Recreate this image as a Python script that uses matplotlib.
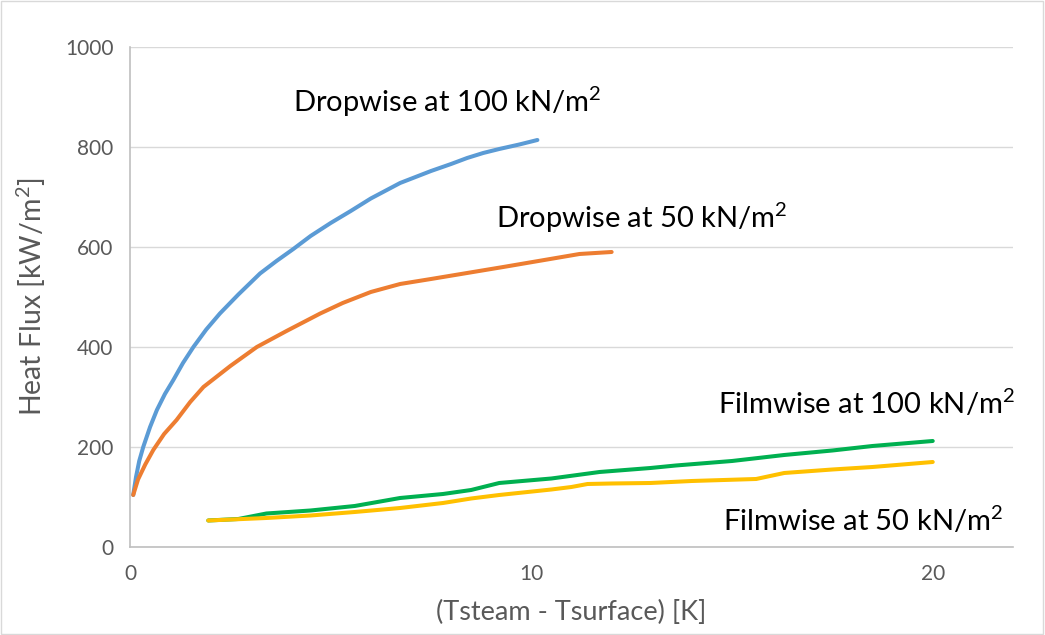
import numpy as np
import matplotlib.pyplot as plt
from matplotlib.patches import Rectangle

plt.rcParams["font.family"] = ["Lato", "DejaVu Sans"]
plt.rcParams["mathtext.default"] = "regular"

# Dropwise at 100 kN/m2
drop100_x = [0.08, 0.15, 0.23, 0.33, 0.5, 0.67, 0.87, 1.08, 1.32, 1.58, 1.9, 2.24, 2.7, 3.24,
             3.65, 4.07, 4.5, 5.0, 5.5, 6.0, 6.73, 7.5, 8.0, 8.4, 8.8, 9.2, 9.7, 10.15]
drop100_y = [104, 140, 172, 200, 240, 274, 306, 334, 368, 400, 435, 467, 505, 547,
             572, 596, 622, 648, 672, 697, 728, 752, 766, 778, 788, 796, 805, 814]

# Dropwise at 50 kN/m2
drop50_x = [0.08, 0.2, 0.38, 0.58, 0.85, 1.16, 1.5, 1.83, 2.5, 3.16, 3.9, 4.74, 5.3, 6.0,
            6.73, 7.5, 8.4, 9.3, 10.47, 11.2, 12.0]
drop50_y = [104, 135, 165, 194, 226, 254, 290, 320, 362, 400, 432, 467, 488, 510,
            526, 536, 548, 560, 576, 586, 590]

# Filmwise at 100 kN/m2
film100_x = [1.95, 2.7, 3.4, 4.5, 5.6, 6.73, 7.8, 8.5, 9.2, 10.5, 11.7, 12.97, 13.6, 15.0, 16.3, 17.5, 18.5, 20.0]
film100_y = [53, 56, 67, 73, 82, 98, 106, 114, 128, 137, 150, 158, 163, 172, 184, 193, 202, 212]

# Filmwise at 50 kN/m2
film50_x = [1.95, 3.4, 4.5, 5.6, 6.73, 7.8, 8.5, 9.2, 10.5, 11.0, 11.4, 12.0, 12.97, 14.0, 15.6, 16.3, 17.5, 18.5, 20.0]
film50_y = [53, 58, 63, 70, 78, 88, 97, 104, 115, 120, 126, 127, 128, 132, 136, 148, 155, 160, 170]

fig = plt.figure(figsize=(10.45, 6.35), dpi=100)
ax = fig.add_axes([0.1244, 0.1386, 0.845, 0.7874])

fig.patches.append(Rectangle((0.001, 0.001), 0.997, 0.997, transform=fig.transFigure,
                             fill=False, edgecolor="#d9d9d9", linewidth=1))

style = dict(lw=2.9, solid_capstyle="round", solid_joinstyle="round")
ax.plot(drop100_x, drop100_y, color="#5b9bd5", **style)
ax.plot(drop50_x, drop50_y, color="#ed7d31", **style)
ax.plot(film100_x, film100_y, color="#00b050", **style)
ax.plot(film50_x, film50_y, color="#ffc000", **style)

ax.set_xlim(0, 22)
ax.set_ylim(0, 1000)
ax.set_xticks([0, 10, 20])
ax.set_yticks([0, 200, 400, 600, 800, 1000])
ax.grid(axis="y", color="#d9d9d9", lw=1)
ax.set_axisbelow(True)
ax.tick_params(length=0, labelsize=15, colors="#595959", pad=12)
for s in ["top", "right"]:
    ax.spines[s].set_visible(False)
for s in ["left", "bottom"]:
    ax.spines[s].set_color("#bfbfbf")
    ax.spines[s].set_linewidth(1.2)

ax.set_ylabel("Heat Flux [kW/m$^2$]", fontsize=20.5, color="#595959", labelpad=12)
ax.set_xlabel("(Tsteam - Tsurface) [K]", fontsize=19.5, color="#595959", labelpad=12)

txt = dict(fontsize=21, color="black", va="center")
ax.text(4.07, 890, "Dropwise at 100 kN/m$^2$", ha="left", **txt)
ax.text(9.13, 658, "Dropwise at 50 kN/m$^2$", ha="left", **txt)
ax.text(22.05, 288, "Filmwise at 100 kN/m$^2$", ha="right", **txt)
ax.text(21.75, 53, "Filmwise at 50 kN/m$^2$", ha="right", **txt)

fig.savefig("out.png", dpi=100)
